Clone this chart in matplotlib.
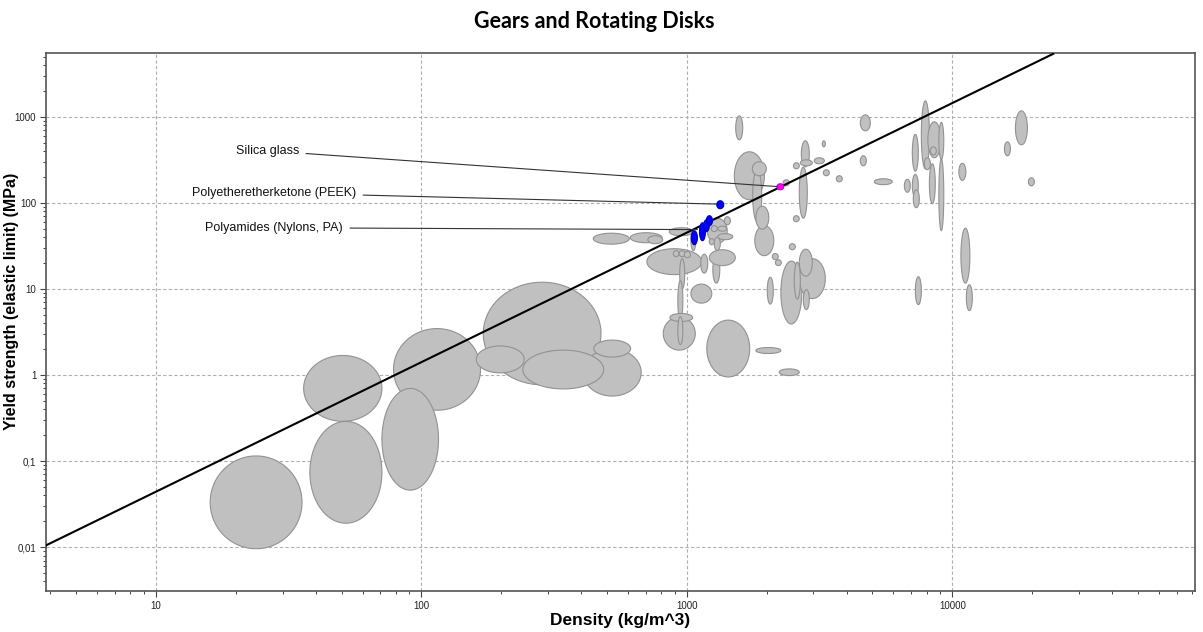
import numpy as np
import matplotlib.pyplot as plt
from matplotlib.ticker import NullFormatter

# material bubbles: density range (kg/m^3) and yield strength range (MPa), in drawing order
density_lo = [16, 36, 38, 78.5, 71, 171, 161, 407, 241, 446,
              444, 612, 713, 859, 707, 889, 935, 979, 940, 925,
              815, 863, 925, 1036, 1194, 1128, 1253, 1215, 1268, 1308,
              1308, 1384, 1236, 1215, 1036, 1189, 1820, 2229,
              2261, 2009, 2652, 2653, 2540, 2747, 2432, 2099, 2155,
              1510, 1771, 1765, 1803, 1820, 1528, 2305, 2700, 2676, 2652,
              2521, 2521, 3020, 3239, 3268, 3656, 4504, 4504, 5086, 6600,
              7072, 7072, 7130, 7646, 8090, 8270, 7850, 8900, 8900, 8200,
              10590, 10780, 11300, 7260, 15720, 17300, 19360]
density_hi = [35.5, 71, 71, 167, 116, 475, 244, 673, 486, 614,
              607, 807, 811, 1057, 1137, 935, 986, 1032, 982, 966,
              1076, 1052, 966, 1242, 1419, 1199, 1331, 1523, 1337, 1489,
              1413, 1459, 1302, 1268, 1080, 1725, 2261, 2652,
              2710, 2117, 3325, 2970, 2676, 2893, 2563, 2211, 2270,
              1960, 1915, 1993, 2126, 2036, 1624, 2432, 2893, 2970, 2843,
              2652, 2652, 3296, 3325, 3442, 3853, 4745, 4912, 5943, 6950,
              7448, 7448, 7515, 8200, 9060, 8710, 8270, 9290, 9290, 8630,
              11250, 11650, 11900, 7646, 16560, 19190, 20380]
strength_lo = [0.0096, 0.29, 0.019, 0.39, 0.046, 0.77, 1.06, 0.57, 0.69, 1.62,
               33.2, 34.5, 33.6, 41.6, 14.7, 23.8, 23.8, 23.1, 10.0, 4.3,
               1.95, 4.19, 2.26, 6.85, 34.0, 15.3, 11.7, 18.7, 28.2, 37.4,
               47.0, 55.8, 46.4, 32.7, 27.9, 0.95, 1.78, 0.987,
               3.92, 6.68, 7.74, 14.1, 7.64, 5.77, 28.6, 21.9, 18.7,
               109, 60.5, 207, 24.4, 49.6, 541, 158, 263, 270, 66.5,
               60.5, 249, 285, 449, 207, 176, 270, 688, 163, 133,
               234, 117, 88, 249, 335, 362, 243, 321, 47.5, 98,
               183, 11.7, 5.61, 6.59, 353, 473, 158]
strength_hi = [0.115, 1.69, 0.29, 3.47, 0.70, 12.0, 2.18, 2.01, 1.95, 2.55,
               44.5, 45.1, 41.6, 51.5, 29.4, 27.9, 27.9, 27.2, 22.5, 12.5,
               4.72, 5.19, 4.78, 11.4, 66.5, 25.4, 24.1, 28.6, 40.0, 44.0,
               53.7, 69.2, 54.4, 38.5, 47.5, 4.35, 2.09, 1.18,
               21.1, 13.7, 22.5, 29.0, 20.5, 9.84, 33.6, 25.8, 21.9,
               393, 243, 301, 54.4, 91.6, 1027, 186, 527, 317, 260,
               71.1, 293, 335, 527, 243, 207, 353, 1055, 191, 188,
               627, 215, 142, 1533, 875, 449, 335, 864, 326, 285,
               289, 50.9, 11.2, 13.9, 513, 1174, 196]

# highlighted materials
nylon_density_lo = [1039, 1116, 1157, 1184]
nylon_density_hi = [1096, 1175, 1215, 1249]
nylon_strength_lo = [32.7, 36.4, 46.4, 54.4]
nylon_strength_hi = [47.5, 58.9, 63.8, 71.1]
peek_density = [1296, 1377]
peek_strength = [85.7, 106]
silica_density = [2183, 2318]
silica_strength = [142, 167]

# labels: name, text position, point
label_names = ['Silica glass', 'Polyetheretherketone (PEEK)', 'Polyamides (Nylons, PA)']
label_text_density = [34.6, 56.8, 50.7]
label_text_strength = [403, 131, 51.5]
label_point_density = [2190, 1290, 1096]
label_point_strength = [155, 97, 49]

# design guide line (slope 1.5)
guide_density = [3.85, 24000]
guide_strength = [0.0105, 5400]

x_ticks = [10, 100, 1000, 10000]
x_ticklabels = ['10', '100', '1000', '10000']
y_ticks = [0.01, 0.1, 1, 10, 100, 1000]
y_ticklabels = ['0,01', '0,1', '1', '10', '100', '1000']

plt.rcParams['font.family'] = ['Liberation Sans', 'DejaVu Sans']

fig = plt.figure(figsize=(12.03, 6.32), dpi=100)
ax = fig.add_axes([0.0382, 0.0649, 0.955, 0.851])
ax.set_xscale('log')
ax.set_yscale('log')

t = np.linspace(0, 2 * np.pi, 90)


def bubble(dlo, dhi, slo, shi, face, edge, z):
    cx = (np.log10(dlo) + np.log10(dhi)) / 2
    rx = (np.log10(dhi) - np.log10(dlo)) / 2
    cy = (np.log10(slo) + np.log10(shi)) / 2
    ry = (np.log10(shi) - np.log10(slo)) / 2
    ax.fill(10 ** (cx + rx * np.cos(t)), 10 ** (cy + ry * np.sin(t)),
            facecolor=face, edgecolor=edge, lw=0.8, zorder=z)


for i in range(len(density_lo)):
    bubble(density_lo[i], density_hi[i], strength_lo[i], strength_hi[i], '#c0c0c0', '#929292', 2)

ax.plot(guide_density, guide_strength, color='black', lw=1.5, zorder=3)

for i in range(len(nylon_density_lo)):
    bubble(nylon_density_lo[i], nylon_density_hi[i], nylon_strength_lo[i], nylon_strength_hi[i],
           '#0000ff', '#0000c0', 4)
bubble(peek_density[0], peek_density[1], peek_strength[0], peek_strength[1], '#0000ff', '#0000c0', 4)
bubble(silica_density[0], silica_density[1], silica_strength[0], silica_strength[1], '#ff00ff', '#c000c0', 4)

for i in range(len(label_names)):
    ax.annotate(label_names[i], xy=(label_point_density[i], label_point_strength[i]),
                xytext=(label_text_density[i], label_text_strength[i]),
                ha='right', va='center', fontsize=9, color='#111111', zorder=5,
                arrowprops=dict(arrowstyle='-', color='#333333', lw=0.8, shrinkA=3, shrinkB=0))

ax.set_xlim(3.85, 82000)
ax.set_ylim(0.0031, 5500)
ax.set_xticks(x_ticks)
ax.set_xticklabels(x_ticklabels)
ax.set_yticks(y_ticks)
ax.set_yticklabels(y_ticklabels)
ax.xaxis.set_minor_formatter(NullFormatter())
ax.yaxis.set_minor_formatter(NullFormatter())
ax.tick_params(which='major', length=4, width=0.8, color='#444444', labelsize=7, labelcolor='#222222', pad=3)
ax.tick_params(which='minor', length=2.5, width=0.7, color='#444444')

ax.set_axisbelow(True)
ax.grid(True, which='major', linestyle=(0, (3, 2)), color='#b0b0b0', lw=0.8)
for s in ax.spines.values():
    s.set_color('#555555')
    s.set_linewidth(1.2)

fig.text(594 / 1203, 1 - 22 / 632, 'Gears and Rotating Disks', ha='center', va='center',
         fontsize=15.5, fontweight='bold', family=['Lato', 'DejaVu Sans'])
fig.text(620 / 1203, 1 - 620 / 632, 'Density (kg/m^3)', ha='center', va='center',
         fontsize=12.5, fontweight='bold')
fig.text(12 / 1203, 1 - 301 / 632, 'Yield strength (elastic limit) (MPa)', ha='center', va='center',
         rotation=90, fontsize=11.5, fontweight='bold')

fig.savefig('out.png', dpi=100)
